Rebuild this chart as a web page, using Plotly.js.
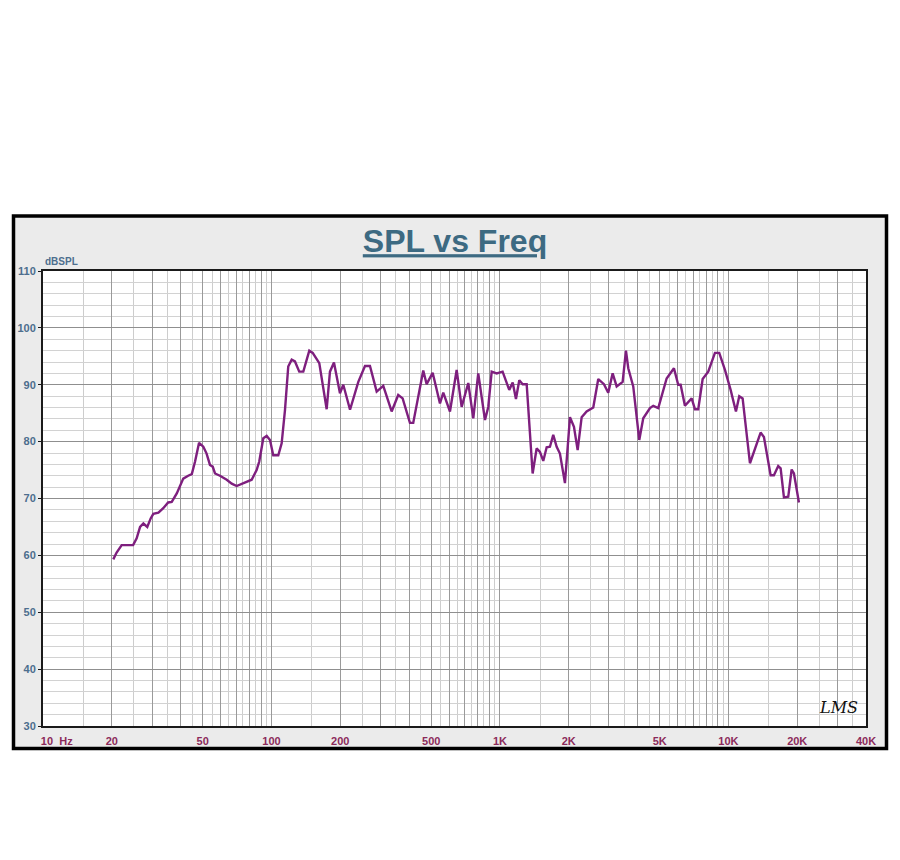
<!DOCTYPE html>
<html><head><meta charset="utf-8">
<script src="https://cdn.plot.ly/plotly-3.0.1.min.js"></script>
<style>html,body{margin:0;padding:0;background:#fff;}#chart{width:900px;height:860px;}</style>
</head><body><div id="chart"></div>
<script>
// Frequency (Hz) and SPL (dB)
const freqHz = [20.3,21.0,22.1,24.8,25.7,26.6,27.5,28.6,29.6,30.4,32.0,33.6,35.3,36.6,38.5,41.1,43.2,44.8,46.3,48.2,
  50.3,52.0,53.8,55.3,56.6,59.5,63.7,67.0,70.4,74.1,77.9,81.9,86.1,88.4,92.1,95.3,98.5,101.8,107.1,110.8,
  114.6,118.4,122.6,126.7,132.3,137.8,146.4,151.5,161.9,174.4,180.3,187.7,199.4,206.2,220.7,239.9,256.6,269.8,288.7,308.5,
  335.7,358.7,375.0,403.6,417.3,461.6,477.7,507.5,546.3,564.8,604.2,646.3,679.7,726.6,764.2,803.5,859.9,888.9,919.9,967.4,
  1027,1098,1137,1175,1215,1257,1309,1390,1447,1496,1547,1601,1655,1711,1771,1830,1925,2025,2108,2188,
  2278,2395,2561,2693,2852,2978,3113,3242,3443,3560,3644,3831,4071,4238,4535,4687,4930,5364,5774,6029,
  6177,6450,6902,7136,7377,7711,8157,8728,9114,9654,10222,10785,11151,11537,12421,12932,13830,14299,15298,15815,
  16517,16921,17494,18269,18907,19348,20347];
const splDb = [59.3,60.5,61.8,61.8,63.0,65.0,65.6,65.0,66.5,67.3,67.5,68.3,69.3,69.4,70.9,73.5,74.0,74.3,76.5,79.8,
  79.1,77.9,75.9,75.6,74.4,74.0,73.3,72.6,72.2,72.6,73.0,73.3,75.0,76.5,80.6,81.0,80.3,77.6,77.6,79.7,
  85.6,93.2,94.4,94.1,92.3,92.3,96.0,95.6,93.8,85.7,92.3,93.9,88.5,90.0,85.6,90.5,93.3,93.3,88.8,89.8,
  85.3,88.2,87.6,83.3,83.3,92.5,90.1,92.1,86.7,88.6,85.3,92.6,86.1,90.3,84.1,92.0,83.8,86.1,92.3,92.0,
  92.3,89.1,90.4,87.5,90.8,90.1,90.1,74.4,78.8,78.2,76.6,79.0,79.1,81.2,79.1,77.9,72.7,84.3,82.6,78.5,
  84.3,85.3,86.0,91.0,90.1,88.6,92.0,89.7,90.5,96.0,92.9,89.7,80.3,84.1,85.9,86.3,85.9,91.1,92.9,90.0,
  90.0,86.3,87.6,85.7,85.7,91.0,92.3,95.6,95.6,92.6,89.1,85.3,88.0,87.6,76.2,78.2,81.6,80.8,74.1,74.1,
  75.7,75.3,70.2,70.3,75.1,74.4,69.3];

const xLabelVals = [10,20,50,100,200,500,1000,2000,5000,10000,20000,40000];
const xLabelText = ['10  Hz','20','50','100','200','500','1K','2K','5K','10K','20K','40K'];
const yLabelVals = [30,40,50,60,70,80,90,100,110];
const yLabelText = ['30','40','50','60','70','80','90','100','110'];

// grid positions: integer multiples (major) and half multiples (minor) per decade
const gridMajor = [], gridMinor = [];
[10,100,1000,10000].forEach(d => {
  for (let k = 1; k <= 9; k++) {
    if (k*d <= 40000) gridMajor.push(k*d);
    if ((k+0.5)*d < 40000) gridMinor.push((k+0.5)*d);
  }
});
const gridText = gridMajor.map(v => {
  const i = xLabelVals.indexOf(v);
  if (i < 0) return '';
  let t = xLabelText[i].replace(/ /g, '\u00a0');
  if (i === 0) t = '\u00a0'.repeat(9) + t;
  return t;
});

const FONT = 'Arial, "Liberation Sans", sans-serif';

const trace = {
  x: freqHz, y: splDb, type: 'scatter', mode: 'lines',
  line: {color: '#7e1f7e', width: 2.4}, hoverinfo: 'skip'
};

const layout = {
  width: 900, height: 860, autosize: false,
  margin: {l: 43, r: 34, t: 271, b: 134, pad: 0},
  paper_bgcolor: '#ffffff', plot_bgcolor: '#ffffff',
  showlegend: false,
  title: {
    text: '<u>SPL vs Freq</u>',
    font: {family: FONT, size: 32, color: '#3d6a82', weight: 'bold'},
    x: 0.5006, xref: 'paper', xanchor: 'center',
    y: 1 - 241/860, yref: 'container', yanchor: 'middle'
  },
  xaxis: {
    type: 'log', range: [1, Math.log10(40000)],
    tickmode: 'array', tickvals: gridMajor, ticktext: gridText,
    ticks: '', ticklabelstandoff: 4,
    tickfont: {family: FONT, size: 11, color: '#8b2a5a', weight: 'bold'},
    showgrid: true, gridcolor: '#9a9a9a', gridwidth: 1,
    minor: {tickmode: 'array', tickvals: gridMinor, showgrid: true, gridcolor: '#cdcdcd', gridwidth: 1, ticks: ''},
    showline: true, mirror: true, linecolor: '#1a1a1a', linewidth: 2,
    zeroline: false, fixedrange: true
  },
  yaxis: {
    range: [30, 110],
    tickmode: 'array', tickvals: yLabelVals, ticktext: yLabelText,
    ticks: 'outside', ticklen: 3, tickcolor: '#1a1a1a', tickwidth: 1,
    tickfont: {family: FONT, size: 11, color: '#4d6e8e', weight: 'bold'},
    showgrid: true, gridcolor: '#8f8f8f', gridwidth: 1,
    minor: {dtick: 2, tick0: 30, showgrid: true, gridcolor: '#d2d2d2', gridwidth: 1, ticks: ''},
    showline: true, mirror: true, linecolor: '#1a1a1a', linewidth: 2,
    zeroline: false, fixedrange: true
  },
  shapes: [
    {type: 'rect', xref: 'paper', yref: 'paper', layer: 'below',
     x0: (13.5-43)/823, x1: (886.5-43)/823, y0: (726-748.5)/455, y1: (726-216)/455,
     fillcolor: '#ebebeb', line: {color: '#000000', width: 3.5}},
    {type: 'rect', xref: 'paper', yref: 'paper', layer: 'below',
     x0: 0, x1: 1, y0: 0, y1: 1, fillcolor: '#ffffff', line: {width: 0}}
  ],
  annotations: [
    {text: 'dBSPL', xref: 'paper', yref: 'paper', x: 0, y: (726-261)/455,
     xanchor: 'left', yanchor: 'middle', showarrow: false,
     font: {family: FONT, size: 10, color: '#4d6e8e', weight: 'bold'}},
    {text: 'LMS', xref: 'paper', yref: 'paper', x: (838-43)/823, y: (726-707)/455,
     xanchor: 'center', yanchor: 'middle', showarrow: false,
     font: {family: '"DejaVu Serif", serif', size: 16, color: '#111111', style: 'italic'}}
  ]
};

Plotly.newPlot('chart', [trace], layout, {staticPlot: true, displayModeBar: false});
</script>
</body></html>
